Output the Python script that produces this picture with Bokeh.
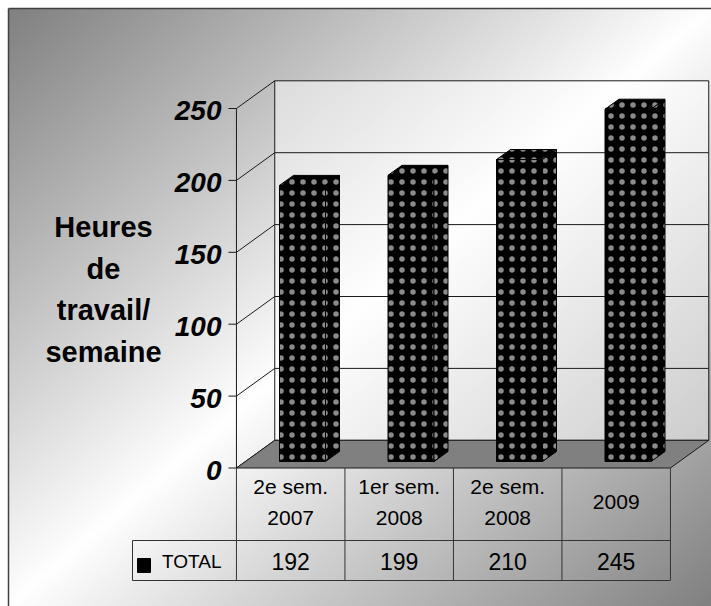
import numpy as np
from bokeh.plotting import figure
from bokeh.models import Range1d
from bokeh.core.properties import value
from bokeh.embed import file_html
from bokeh.resources import INLINE

# ---------------- data ----------------
categories = ["2e sem.\n2007", "1er sem.\n2008", "2e sem.\n2008", "2009"]
totals = [192, 199, 210, 245]
series_name = "TOTAL"
y_ticks = [0, 50, 100, 150, 200, 250]
y_title = "Heures\nde\ntravail/\nsemaine"

# ---------------- layout (page pixels) ----------------
W, H = 711, 606
CHART = 8             # chart-area border offset inside the canvas
COL_X0 = 290.2        # page x of first category centre
COL_W = 108.5         # px per category
ZERO_Y = 467.5        # page y of value 0 on the front plane
PX_PER_UNIT = 1.438   # px per hour


def dx(px):
    return px / COL_W


def dy(px):
    return px / PX_PER_UNIT


def X(px):
    return (px - COL_X0) / COL_W


def Y(py):
    return (ZERO_Y - py) / PX_PER_UNIT


x_start, x_end = X(0), X(W)
y_start, y_end = Y(H), Y(0)

p = figure(width=W, height=H, output_backend="svg", toolbar_location=None,
           x_range=Range1d(x_start, x_end), y_range=Range1d(y_start, y_end),
           x_axis_type=None, y_axis_type=None, min_border=0)
p.grid.visible = False
p.outline_line_color = None
p.background_fill_color = "white"
p.border_fill_color = "white"

# ---------------- background gradient ----------------
gw, gh = W - CHART, H - CHART
ny, nx = gh // 2, gw // 2
u = (np.arange(nx) + 0.5) / nx
vv = 1 - (np.arange(ny) + 0.5) / ny
t = 0.5 * (u[None, :] + vv[:, None])
g = (255 - 127 * np.abs(2 * t - 1)).astype(np.uint8)
img = np.empty((ny, nx), dtype=np.uint32)
view = img.view(dtype=np.uint8).reshape((ny, nx, 4))
view[..., 0] = g
view[..., 1] = g
view[..., 2] = g
view[..., 3] = 255
p.image_rgba(image=[img], x=X(CHART), y=y_start, dw=x_end - X(CHART), dh=Y(CHART) - y_start)

# ---------------- 3D box ----------------
n = len(categories)
idx = np.arange(n)
left_edge, right_edge = -0.5, n - 0.5
FX, FY = dx(38.3), dy(27.7)
vmax = max(y_ticks)
edge = "#1a1a1a"

# back wall
p.quad(left=left_edge + FX, right=right_edge + FX, bottom=FY, top=vmax + FY,
       fill_color="white", fill_alpha=0.45, line_color=None)
# gridlines on back wall and side wall
p.segment(x0=[left_edge + FX] * len(y_ticks), y0=[v + FY for v in y_ticks],
          x1=[right_edge + FX] * len(y_ticks), y1=[v + FY for v in y_ticks],
          line_color=edge, line_width=1)
p.segment(x0=[left_edge] * len(y_ticks), y0=y_ticks,
          x1=[left_edge + FX] * len(y_ticks), y1=[v + FY for v in y_ticks],
          line_color=edge, line_width=1)
# wall verticals
p.segment(x0=[left_edge + FX, right_edge + FX], y0=[FY, FY],
          x1=[left_edge + FX, right_edge + FX], y1=[vmax + FY, vmax + FY],
          line_color=edge, line_width=1)
# floor
p.patch([left_edge, right_edge, right_edge + FX, left_edge + FX], [0, 0, FY, FY],
        fill_color="#808080", line_color=edge, line_width=1)

# ---------------- table ----------------
row1_bottom = Y(540)
row2_bottom = Y(580)
legend_left = X(132)
tab_col = "#333333"
bounds = [left_edge + k for k in range(n + 1)]
p.segment(x0=bounds, y0=[0] * len(bounds), x1=bounds, y1=[row2_bottom] * len(bounds),
          line_color=tab_col, line_width=1)
p.segment(x0=[legend_left, legend_left], y0=[row1_bottom, row2_bottom],
          x1=[right_edge, right_edge], y1=[row1_bottom, row2_bottom],
          line_color=tab_col, line_width=1)
p.segment(x0=[legend_left], y0=[row1_bottom], x1=[legend_left], y1=[row2_bottom],
          line_color=tab_col, line_width=1)

# ---------------- value axis ----------------
p.segment(x0=[left_edge], y0=[0], x1=[left_edge], y1=[vmax], line_color=edge, line_width=1)
p.segment(x0=[left_edge - dx(8)] * len(y_ticks), y0=y_ticks,
          x1=[left_edge] * len(y_ticks), y1=y_ticks, line_color=edge, line_width=1)
p.text(x=[X(221)] * len(y_ticks), y=y_ticks, text=[str(v) for v in y_ticks],
       text_align="right", text_baseline="middle", y_offset=2,
       text_font=value("Liberation Sans"), text_font_size="28px",
       text_font_style="bold italic", text_color="black")
p.text(x=[X(103)], y=[Y(289)], text=[y_title], text_align="center",
       text_baseline="middle", text_line_height=1.3,
       text_font=value("Liberation Sans"), text_font_size="29px",
       text_font_style="bold", text_color="black")

# ---------------- bars ----------------
off = X(279)          # front-left of first bar relative to its category centre
BW = dx(46)
BDX, BDY = dx(14), dy(10)
B0 = Y(461)
bar_style = dict(fill_color="black", hatch_pattern="dot", hatch_color="#8a8a8a",
                 hatch_scale=11, hatch_weight=0.5, line_color="black", line_width=1)
lefts = [i + off for i in idx]
rights = [l + BW for l in lefts]
tops = [v + B0 for v in totals]
p.quad(left=lefts, right=rights, bottom=[B0] * n, top=tops, **bar_style)
p.patches(xs=[[l, r, r + BDX, l + BDX] for l, r in zip(lefts, rights)],
          ys=[[tp, tp, tp + BDY, tp + BDY] for tp in tops], **bar_style)
p.patches(xs=[[r, r + BDX, r + BDX, r] for r in rights],
          ys=[[B0, B0 + BDY, tp + BDY, tp] for tp in tops], **bar_style)

# ---------------- table text ----------------
p.text(x=list(idx), y=[Y(501.5)] * n, text=categories, text_align="center",
       text_baseline="middle", text_line_height=1.33,
       text_font=value("Liberation Sans"), text_font_size="21px", text_color="black")
p.text(x=list(idx), y=[Y(560.5)] * n, text=[str(v) for v in totals], text_align="center",
       text_baseline="middle", text_font=value("Liberation Sans"), text_font_size="23px",
       text_color="black")
p.quad(left=[X(137)], right=[X(150)], bottom=[Y(572)], top=[Y(558)],
       fill_color="black", line_color="black")
p.text(x=[X(161.5)], y=[Y(561)], text=[series_name], text_align="left",
       text_baseline="middle", text_font=value("Liberation Sans"), text_font_size="19px",
       text_color="black")

# ---------------- chart border (left / top) ----------------
p.segment(x0=[X(CHART), X(CHART)], y0=[Y(CHART), Y(CHART)],
          x1=[X(CHART), x_end], y1=[y_start, Y(CHART)],
          line_color="#404040", line_width=1.5)

open("out.html", "w").write(file_html(p, INLINE))
